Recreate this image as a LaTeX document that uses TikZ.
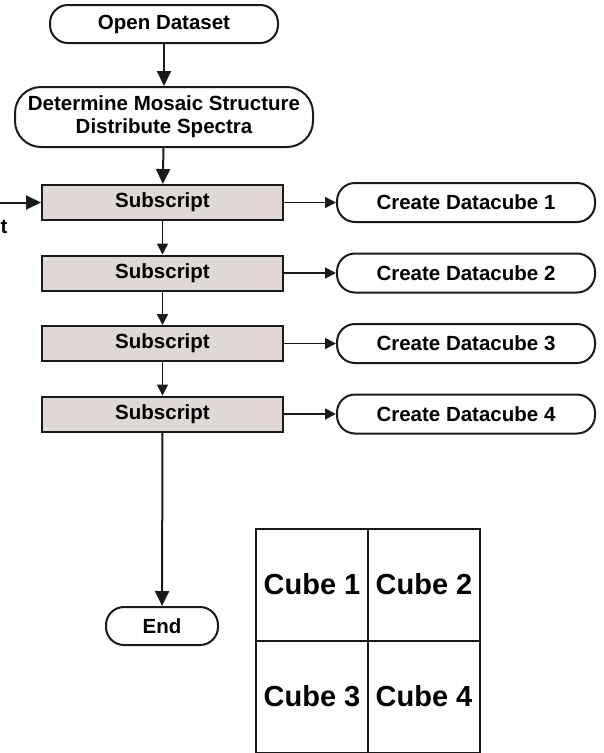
\documentclass[tikz,border=0pt]{standalone}
\usepackage{fontspec}
\setmainfont{Liberation Sans}
\usetikzlibrary{arrows.meta}
\definecolor{subfill}{HTML}{DFD8D4}
\definecolor{ink}{HTML}{1A1A1A}
\tikzset{
  term/.style={draw=ink, line width=2pt, rounded corners=18pt, fill=white, font=\fontsize{20.5}{23}\selectfont\bfseries, inner sep=0pt, align=center},
  subbox/.style={draw=ink, line width=2pt, fill=subfill, minimum width=241pt, minimum height=35pt, inner sep=0pt, font=\fontsize{20.5}{23}\selectfont\bfseries},
  cubecell/.style={draw=ink, line width=2pt, minimum width=112pt, minimum height=112pt, inner sep=0pt, font=\fontsize{29}{32}\selectfont\bfseries},
  conn/.style={draw=ink, line width=2pt, -{Triangle[length=15pt,width=14pt]}},
  connsmall/.style={draw=ink, line width=1.8pt, -{Triangle[length=11pt,width=11pt]}}
}
\begin{document}
\begin{tikzpicture}[x=1pt,y=-1pt]
\useasboundingbox (0,0) rectangle (603,753);
\node[term, minimum width=228pt, minimum height=38pt] (open) at (164,24) {Open Dataset};
\node[term, minimum width=298pt, minimum height=60pt, rounded corners=26pt] (det) at (164,117) {Determine Mosaic Structure\\Distribute Spectra};
\node[subbox] (s1) at (162.5,202.5) {Subscript};
\node[subbox] (s2) at (162.5,273) {Subscript};
\node[subbox] (s3) at (162.5,343.5) {Subscript};
\node[subbox] (s4) at (162.5,414) {Subscript};
\node[term, minimum width=258pt, minimum height=39pt] (c1) at (466,202.5) {Create Datacube 1};
\node[term, minimum width=258pt, minimum height=39pt] (c2) at (466,273) {Create Datacube 2};
\node[term, minimum width=258pt, minimum height=39pt] (c3) at (466,343.5) {Create Datacube 3};
\node[term, minimum width=258pt, minimum height=39pt] (c4) at (466,414) {Create Datacube 4};
\node[term, minimum width=112pt, minimum height=38pt] (end) at (162,626) {End};
\coordinate (in) at (-2,202.5);
\node[font=\fontsize{20.5}{23}\selectfont\bfseries, anchor=west, inner sep=0pt] (tlabel) at (0.5,227) {t};
\draw[conn] (open) -- (det);
\draw[conn] (det) -- (s1);
\draw[conn] (in) -- (s1);
\draw[connsmall] (s1) -- (s2);
\draw[connsmall] (s2) -- (s3);
\draw[connsmall] (s3) -- (s4);
\draw[conn] (s4) -- (end);
\draw[connsmall] (s1) -- (c1);
\draw[connsmall] (s2) -- (c2);
\draw[connsmall] (s3) -- (c3);
\draw[connsmall] (s4) -- (c4);
\node[cubecell] (q1) at (312,584.5) {Cube 1};
\node[cubecell] (q2) at (424,584.5) {Cube 2};
\node[cubecell] (q3) at (312,696.5) {Cube 3};
\node[cubecell] (q4) at (424,696.5) {Cube 4};
\end{tikzpicture}
\end{document}
